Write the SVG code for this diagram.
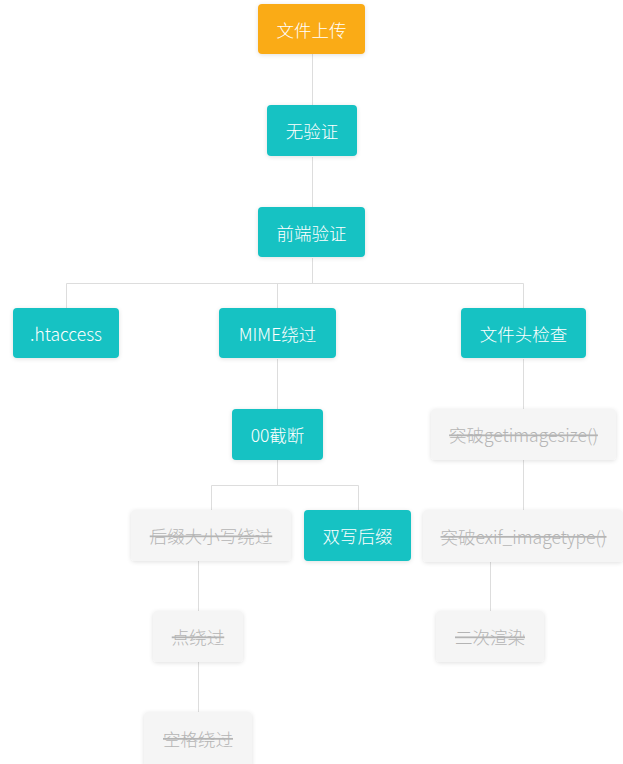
<svg xmlns="http://www.w3.org/2000/svg" width="623" height="764" viewBox="0 0 623 764">
<style>
  .box{stroke:none;filter:url(#sh)}
  .orange{fill:#FAAB19}
  .teal{fill:#16C2C3}
  .grey{fill:#F5F5F5}
  .t{font-family:"Noto Sans CJK SC","Noto Sans",sans-serif;font-size:17.5px;font-weight:300;text-anchor:middle;dominant-baseline:central}
  .w{fill:#FFFFFF}
  .g{fill:#B4B4B4;text-decoration:line-through}
  .c{fill:none;stroke:#DDDDDD;stroke-width:1}
</style>
<defs>
  <filter id="sh" x="-20%" y="-30%" width="140%" height="160%">
    <feDropShadow dx="0" dy="1" stdDeviation="2" flood-color="#000" flood-opacity="0.12"/>
  </filter>
</defs>
<rect width="623" height="764" fill="#FFFFFF"/>
<g id="connectors">
  <path class="c" d="M312.5 54V105"/>
  <path class="c" d="M312.5 157V207"/>
  <path class="c" d="M312.5 258V283.5M66.5 308V283.5H523.5V308M277.5 283.5V308"/>
  <path class="c" d="M277.5 359V409"/>
  <path class="c" d="M277.5 460V485.5M211.5 510V485.5H358.5V510"/>
  <path class="c" d="M198.5 561V611"/>
  <path class="c" d="M198.5 662V712"/>
  <path class="c" d="M523.5 359V409"/>
  <path class="c" d="M523.5 460V510"/>
  <path class="c" d="M490.5 562V611"/>
</g>
<g id="n_upload"><rect class="box orange" x="258" y="4" width="107" height="50" rx="4"/><text class="t w" x="311.5" y="29">文件上传</text></g>
<g id="n_none"><rect class="box teal" x="267" y="105" width="90" height="51" rx="4"/><text class="t w" x="312" y="130.5">无验证</text></g>
<g id="n_front"><rect class="box teal" x="258" y="207" width="107" height="50" rx="4"/><text class="t w" x="311.5" y="232">前端验证</text></g>
<g id="n_htaccess"><rect class="box teal" x="13" y="308" width="106" height="50" rx="4"/><text class="t w" x="66" y="333">.htaccess</text></g>
<g id="n_mime"><rect class="box teal" x="219" y="308" width="117" height="50" rx="4"/><text class="t w" x="277.5" y="333">MIME绕过</text></g>
<g id="n_header"><rect class="box teal" x="461" y="308" width="125" height="50" rx="4"/><text class="t w" x="523.5" y="333">文件头检查</text></g>
<g id="n_00"><rect class="box teal" x="232" y="409" width="91" height="51" rx="4"/><text class="t w" x="277.5" y="434.5">00截断</text></g>
<g id="n_getimagesize"><rect class="box grey" x="431" y="409" width="185" height="51" rx="4"/><text class="t g" x="523.5" y="434.5">突破getimagesize()</text></g>
<g id="n_case"><rect class="box grey" x="131" y="510" width="160" height="51" rx="4"/><text class="t g" x="211" y="535.5">后缀大小写绕过</text></g>
<g id="n_double"><rect class="box teal" x="304" y="510" width="107" height="51" rx="4"/><text class="t w" x="357.5" y="535.5">双写后缀</text></g>
<g id="n_exif"><rect class="box grey" x="423" y="510" width="200" height="52" rx="4"/><text class="t g" x="523.5" y="536">突破exif_imagetype()</text></g>
<g id="n_dot"><rect class="box grey" x="153" y="611" width="90" height="51" rx="4"/><text class="t g" x="198" y="636.5">点绕过</text></g>
<g id="n_render"><rect class="box grey" x="436" y="611" width="108" height="51" rx="4"/><text class="t g" x="490" y="636.5">二次渲染</text></g>
<g id="n_space"><rect class="box grey" x="144" y="712" width="108" height="56" rx="4"/><text class="t g" x="198" y="738">空格绕过</text></g>
</svg>
